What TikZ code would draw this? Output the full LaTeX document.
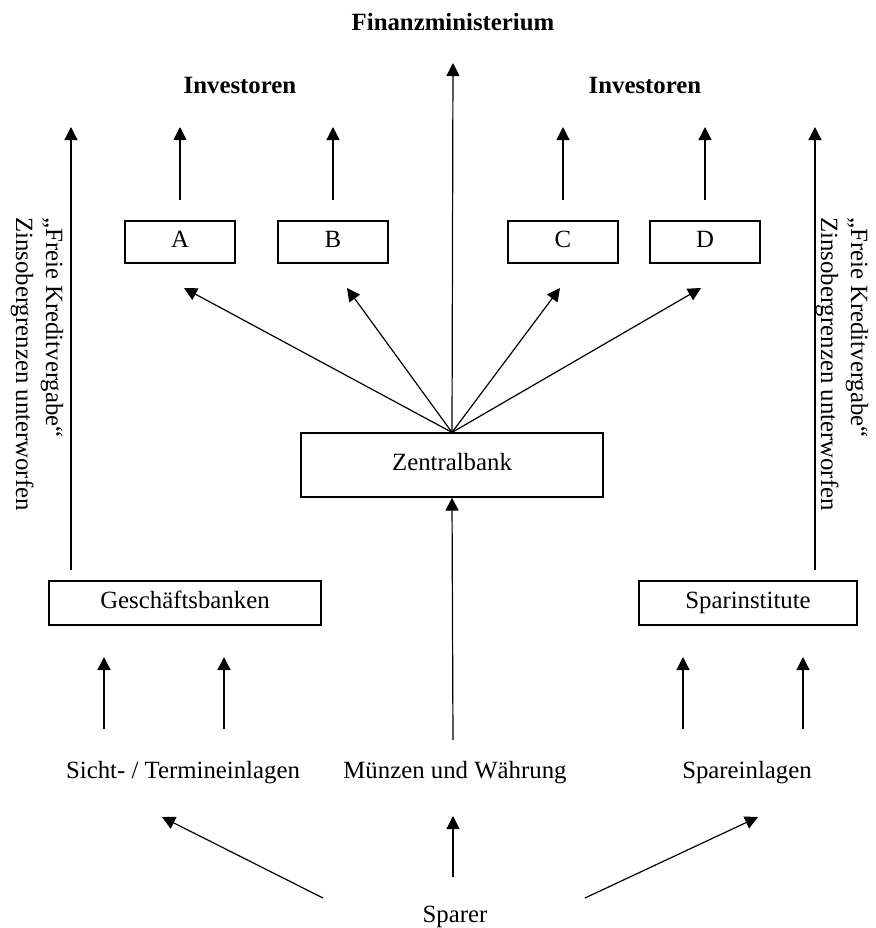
\documentclass[tikz,border=0pt]{standalone}
\usepackage{fontspec}
\setmainfont{Liberation Serif}
\usepackage{tikz}
\usetikzlibrary{arrows.meta,positioning}

\begin{document}
\begin{tikzpicture}[x=0.5pt, y=-0.5pt,
font=\fontsize{12.4}{15}\selectfont,
box/.style={draw, line width=0.6pt, inner sep=0pt, minimum height=21pt,
text height=8.5pt, text depth=2.7pt},
lbl/.style={inner sep=0pt, text height=8.5pt, text depth=2.7pt},
head/.style={inner sep=0pt, font=\fontsize{12.4}{15}\selectfont\bfseries},
side/.style={inner sep=0pt, rotate=-90, align=left},
arrow/.style={-{Triangle[length=6.5pt,width=6.5pt]}, line width=0.6pt}
]
\useasboundingbox (0,0) rectangle (875,928);

\node[head] (fin) at (453,22) {Finanzministerium};
\node[head] (invl) at (240,85) {Investoren};
\node[head] (invr) at (645,85) {Investoren};

\node[box, minimum width=55pt] (A) at (180,242) {A};
\node[box, minimum width=55pt] (B) at (333,242) {B};
\node[box, minimum width=55pt] (C) at (563,242) {C};
\node[box, minimum width=55pt] (D) at (705,242) {D};

\node[box, minimum width=151pt, minimum height=32pt] (zb) at (452,465) {Zentralbank};
\node[box, minimum width=136pt, minimum height=22pt] (gb) at (185,603) {Geschäftsbanken};
\node[box, minimum width=109pt, minimum height=22pt] (si) at (748,603) {Sparinstitute};

\node[lbl] (sicht) at (183,773) {Sicht- / Termineinlagen};
\node[lbl] (muenz) at (455,773) {Münzen und Währung};
\node[lbl] (spein) at (747,773) {Spareinlagen};
\node[lbl] (sparer) at (455,917) {Sparer};

\node[side] (ltxt) at (37,364) {„Freie Kreditvergabe“\\Zinsobergrenzen unterworfen};
\node[side] (rtxt) at (842,364) {„Freie Kreditvergabe“\\Zinsobergrenzen unterworfen};

% free ends
\coordinate (finTip) at (453,63);
\coordinate (aFoot) at (180,200); \coordinate (aTip) at (180,127);
\coordinate (bFoot) at (333,200); \coordinate (bTip) at (333,127);
\coordinate (cFoot) at (563,200); \coordinate (cTip) at (563,127);
\coordinate (dFoot) at (705,200); \coordinate (dTip) at (705,127);
\coordinate (fanA) at (184,288);
\coordinate (fanB) at (347,288);
\coordinate (fanC) at (560,288);
\coordinate (fanD) at (701,288);
\coordinate (lFoot) at (71,570); \coordinate (lTip) at (71,127);
\coordinate (rFoot) at (815,570); \coordinate (rTip) at (815,127);
\coordinate (g1Foot) at (104,729); \coordinate (g1Tip) at (104,657);
\coordinate (g2Foot) at (224,729); \coordinate (g2Tip) at (224,657);
\coordinate (s1Foot) at (683,729); \coordinate (s1Tip) at (683,657);
\coordinate (s2Foot) at (803,729); \coordinate (s2Tip) at (803,657);
\coordinate (mFoot) at (453,740);
\coordinate (spFoot) at (453,877); \coordinate (spTip) at (453,816);
\coordinate (slFoot) at (323,898); \coordinate (slTip) at (162,817);
\coordinate (srFoot) at (585,898); \coordinate (srTip) at (758,817);

\draw[arrow] (zb.north) -- (finTip);
\draw[arrow] (zb.north) -- (fanA);
\draw[arrow] (zb.north) -- (fanB);
\draw[arrow] (zb.north) -- (fanC);
\draw[arrow] (zb.north) -- (fanD);

\draw[arrow] (aFoot) -- (aTip);
\draw[arrow] (bFoot) -- (bTip);
\draw[arrow] (cFoot) -- (cTip);
\draw[arrow] (dFoot) -- (dTip);

\draw[arrow] (lFoot) -- (lTip);
\draw[arrow] (rFoot) -- (rTip);

\draw[arrow] (g1Foot) -- (g1Tip);
\draw[arrow] (g2Foot) -- (g2Tip);
\draw[arrow] (s1Foot) -- (s1Tip);
\draw[arrow] (s2Foot) -- (s2Tip);
\draw[arrow] (mFoot) -- (zb.south);

\draw[arrow] (spFoot) -- (spTip);
\draw[arrow] (slFoot) -- (slTip);
\draw[arrow] (srFoot) -- (srTip);

\end{tikzpicture}
\end{document}
